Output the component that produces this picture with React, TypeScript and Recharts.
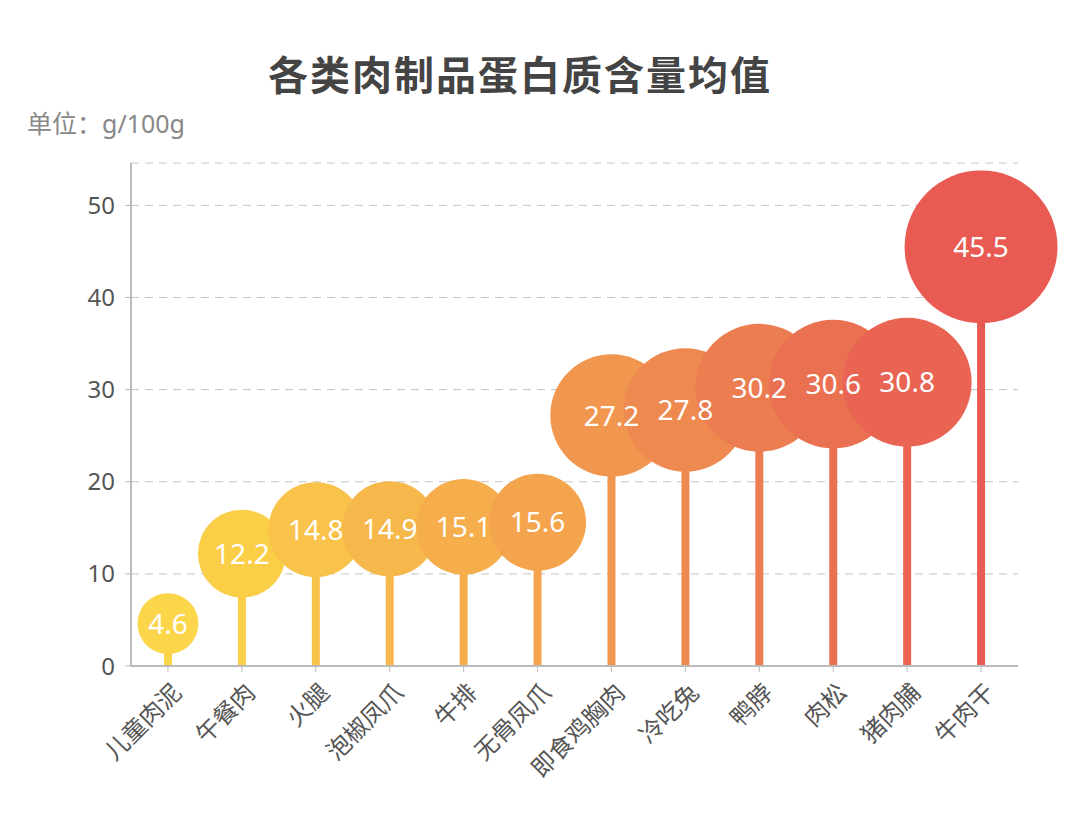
import { ComposedChart, Bar, Scatter, XAxis, YAxis, CartesianGrid, Cell } from "recharts";

const categories = ["儿童肉泥", "午餐肉", "火腿", "泡椒凤爪", "牛排", "无骨凤爪", "即食鸡胸肉", "冷吃兔", "鸭脖", "肉松", "猪肉脯", "牛肉干"];
const protein = [4.6, 12.2, 14.8, 14.9, 15.1, 15.6, 27.2, 27.8, 30.2, 30.6, 30.8, 45.5];
const colors = ["#FCD64A", "#FBCE48", "#F9C24A", "#F7B84B", "#F5AE4B", "#F4A44C", "#F1964F", "#EE8A50", "#EC7D51", "#EA7052", "#E96453", "#E85A52"];
const yTicks = [0, 10, 20, 30, 40, 50];

const FONT = "'Noto Sans', 'Noto Sans CJK SC', sans-serif";

const data = categories.map((name, i) => ({ name, value: protein[i], color: colors[i] }));

// bubble radius grows with sqrt of the value, plus a base size
const radius = (v: number) => 9 + 10 * Math.sqrt(v);

function Bubble(props: any) {
  const { cx, cy, payload } = props;
  return <circle cx={cx} cy={cy} r={radius(payload.value)} fill={payload.color} />;
}

function BubbleLabel(props: any) {
  const { cx, cy, payload } = props;
  return (
    <text x={cx} y={cy} dy="0.36em" textAnchor="middle" fill="#fff" fontSize={28} fontFamily={FONT}>
      {payload.value}
    </text>
  );
}

function XTick(props: any) {
  const { x, y, payload } = props;
  return (
    <g transform={`translate(${x + 9},${y + 14})`}>
      <text x={0} y={0} dy="0.35em" textAnchor="end" transform="rotate(-45)" fill="#555" fontSize={24} fontFamily={FONT}>
        {payload.value}
      </text>
    </g>
  );
}

export default function App() {
  return (
    <div style={{ position: "absolute", left: 0, top: 0, width: 1080, height: 826, background: "#fff" }}>
      <div style={{ position: "absolute", left: 0, top: 44, width: 1040, textAlign: "center", fontFamily: FONT, fontSize: 40, fontWeight: 700, color: "#444", letterSpacing: 2 }}>
        各类肉制品蛋白质含量均值
      </div>
      <div style={{ position: "absolute", left: 27, top: 104, fontFamily: FONT, fontSize: 25, color: "#888" }}>
        单位：g/100g
      </div>
      <ComposedChart width={1080} height={826} data={data} margin={{ top: 163, right: 62, bottom: 10, left: 0 }}>
        <CartesianGrid vertical={false} stroke="#c4c4c4" strokeDasharray="8 6" />
        <XAxis
          dataKey="name"
          height={150}
          interval={0}
          axisLine={{ stroke: "#bbb", strokeWidth: 2 }}
          tickLine={{ stroke: "#bbb" }}
          tick={<XTick />}
        />
        <YAxis
          width={131}
          domain={[0, 54.6]}
          ticks={yTicks}
          axisLine={{ stroke: "#bbb", strokeWidth: 2 }}
          tickLine={{ stroke: "#bbb" }}
          tickMargin={10}
          tick={{ fill: "#555", fontSize: 24, fontFamily: FONT }}
        />
        <Bar dataKey="value" barSize={8} isAnimationActive={false}>
          {data.map((d) => (
            <Cell key={d.name} fill={d.color} />
          ))}
        </Bar>
        <Scatter dataKey="value" shape={<Bubble />} isAnimationActive={false} />
        <Scatter dataKey="value" shape={<BubbleLabel />} isAnimationActive={false} />
      </ComposedChart>
    </div>
  );
}
